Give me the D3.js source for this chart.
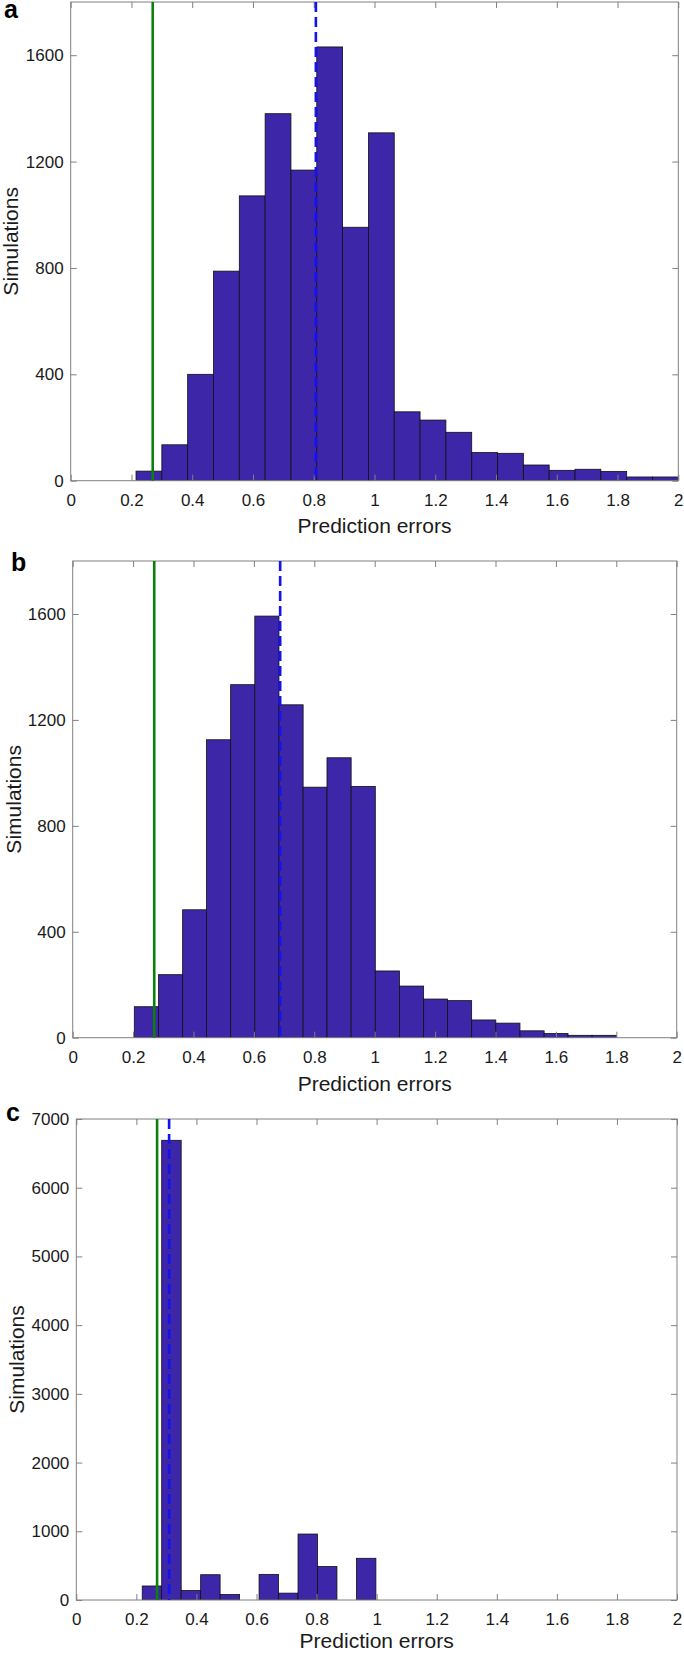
<!DOCTYPE html>
<html>
<head>
<meta charset="utf-8">
<script src="https://cdn.jsdelivr.net/npm/d3@7"></script>
<style>
  body { margin: 0; background: #fff; }
  svg { display: block; font-family: "Liberation Sans", Arial, sans-serif; }
</style>
</head>
<body>
<div id="chart"></div>
<script>
// tick values
const xTicks = [0, 0.2, 0.4, 0.6, 0.8, 1, 1.2, 1.4, 1.6, 1.8, 2];
const yTicksAB = [0, 400, 800, 1200, 1600];
const yTicksC = [0, 1000, 2000, 3000, 4000, 5000, 6000, 7000];

// panel a: histogram bin edges and counts
const edgesA = [0.215, 0.300, 0.385, 0.470, 0.555, 0.640, 0.725, 0.810, 0.895, 0.980, 1.065,
  1.150, 1.235, 1.320, 1.405, 1.490, 1.575, 1.660, 1.745, 1.830, 1.915, 2.000];
const countsA = [36, 135, 400, 788, 1071, 1380, 1168, 1631, 953, 1308, 259,
  228, 182, 106, 103, 59, 39, 43, 35, 14, 14];
const refA = 0.27, medianA = 0.807;

// panel b
const edgesB = [0.204, 0.284, 0.364, 0.443, 0.523, 0.603, 0.683, 0.763, 0.842, 0.922, 1.002,
  1.082, 1.162, 1.241, 1.321, 1.401, 1.481, 1.561, 1.640, 1.720, 1.800];
const countsB = [117, 238, 483, 1125, 1333, 1592, 1257, 946, 1057, 949,
  252, 195, 146, 140, 67, 55, 26, 16, 9, 9];
const refB = 0.27, medianB = 0.687;

// panel c
const edgesC = [0.2195, 0.2843, 0.3492, 0.4140, 0.4788, 0.5437, 0.6085, 0.6733, 0.7382,
  0.8030, 0.8678, 0.9327, 0.9975];
const countsC = [204, 6690, 139, 368, 80, 0, 373, 100, 960, 488, 0, 607];
const refC = 0.269, medianC = 0.309;

const barColor = "#3d26a8";
const greenColor = "#0b800b";
const blueColor = "#1212f2";
const axisColor = "#808080";
const textColor = "#1a1a1a";

const svg = d3.select("#chart").append("svg")
  .attr("width", 684)
  .attr("height", 1653);

const panels = [
  { letter: "a", edges: edgesA, counts: countsA, ref: refA, median: medianA,
    yMax: 1800, yTicks: yTicksAB,
    box: { left: 70.7, right: 678.3, top: 2, bottom: 480.7 },
    letterPos: [4, 18], ylabelX: 18, titleGap: 52 },
  { letter: "b", edges: edgesB, counts: countsB, ref: refB, median: medianB,
    yMax: 1800, yTicks: yTicksAB,
    box: { left: 72.7, right: 676.7, top: 561, bottom: 1037.7 },
    letterPos: [11, 571], ylabelX: 21, titleGap: 53 },
  { letter: "c", edges: edgesC, counts: countsC, ref: refC, median: medianC,
    yMax: 7000, yTicks: yTicksC,
    box: { left: 76.3, right: 677, top: 1119, bottom: 1600 },
    letterPos: [6, 1121], ylabelX: 24, titleGap: 48 }
];

panels.forEach((p, i) => drawPanel(p, i));

function drawPanel(p, i) {
  const b = p.box;
  const x = d3.scaleLinear().domain([0, 2]).range([b.left, b.right]);
  const y = d3.scaleLinear().domain([0, p.yMax]).range([b.bottom, b.top]);

  const g = svg.append("g");

  g.append("clipPath").attr("id", "clip" + i)
    .append("rect")
    .attr("x", b.left).attr("y", b.top)
    .attr("width", b.right - b.left).attr("height", b.bottom - b.top);

  const bins = p.counts.map((c, k) => ({ x0: p.edges[k], x1: p.edges[k + 1], n: c }))
    .filter(d => d.n > 0);

  g.append("g").attr("clip-path", `url(#clip${i})`)
    .selectAll("rect.bar")
    .data(bins)
    .join("rect")
    .attr("class", "bar")
    .attr("x", d => x(d.x0))
    .attr("y", d => y(d.n))
    .attr("width", d => x(d.x1) - x(d.x0))
    .attr("height", d => y(0) - y(d.n))
    .attr("fill", barColor)
    .attr("stroke", "#111")
    .attr("stroke-width", 0.8);

  // axes, ticks pointing inward on all four sides
  const styleAxis = sel => {
    sel.select(".domain").remove();
    sel.selectAll(".tick line").attr("stroke", axisColor);
    sel.selectAll(".tick text").attr("fill", textColor).attr("font-size", 17)
      .attr("font-family", "Liberation Sans, Arial, sans-serif");
  };

  g.append("g")
    .attr("transform", `translate(0,${b.bottom})`)
    .call(d3.axisBottom(x).tickValues(xTicks).tickSize(-6).tickPadding(13).tickFormat(d => d))
    .call(styleAxis);
  g.append("g")
    .attr("transform", `translate(0,${b.top})`)
    .call(d3.axisTop(x).tickValues(xTicks).tickSize(-6).tickFormat(""))
    .call(styleAxis);
  g.append("g")
    .attr("transform", `translate(${b.left},0)`)
    .call(d3.axisLeft(y).tickValues(p.yTicks).tickSize(-6).tickPadding(7).tickFormat(d => d))
    .call(styleAxis);
  g.append("g")
    .attr("transform", `translate(${b.right},0)`)
    .call(d3.axisRight(y).tickValues(p.yTicks).tickSize(-6).tickFormat(""))
    .call(styleAxis);

  g.append("rect")
    .attr("x", b.left).attr("y", b.top)
    .attr("width", b.right - b.left).attr("height", b.bottom - b.top)
    .attr("fill", "none")
    .attr("stroke", axisColor)
    .attr("stroke-width", 1);

  // reference and median lines
  g.append("line")
    .attr("x1", x(p.ref)).attr("x2", x(p.ref))
    .attr("y1", b.top).attr("y2", b.bottom)
    .attr("stroke", greenColor)
    .attr("stroke-width", 2.6);
  g.append("line")
    .attr("x1", x(p.median)).attr("x2", x(p.median))
    .attr("y1", b.top).attr("y2", b.bottom)
    .attr("stroke", blueColor)
    .attr("stroke-width", 2.6)
    .attr("stroke-dasharray", "10,5");

  // labels
  g.append("text")
    .attr("x", (b.left + b.right) / 2)
    .attr("y", b.bottom + p.titleGap)
    .attr("text-anchor", "middle")
    .attr("font-size", 21)
    .attr("fill", textColor)
    .text("Prediction errors");

  g.append("text")
    .attr("transform", `translate(${p.ylabelX},${(b.top + b.bottom) / 2}) rotate(-90)`)
    .attr("text-anchor", "middle")
    .attr("font-size", 21)
    .attr("fill", textColor)
    .text("Simulations");

  g.append("text")
    .attr("x", p.letterPos[0])
    .attr("y", p.letterPos[1])
    .attr("font-size", 25)
    .attr("font-weight", "bold")
    .attr("fill", "#000")
    .text(p.letter);
}
</script>
</body>
</html>
